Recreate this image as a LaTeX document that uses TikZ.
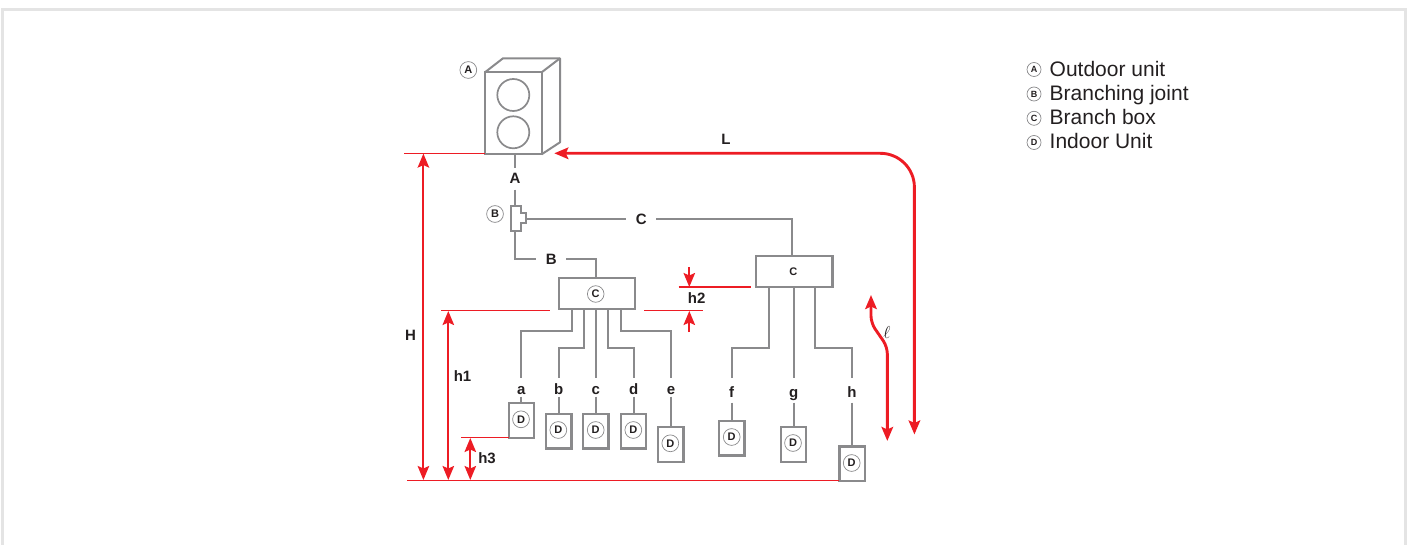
\documentclass[tikz,border=0pt]{standalone}
\usepackage{fontspec}
\setmainfont{Liberation Sans}
\usetikzlibrary{arrows.meta}
\definecolor{pipegray}{HTML}{8A8A8C}
\definecolor{redline}{HTML}{ED1C24}
\definecolor{ink}{HTML}{231F20}
\definecolor{framegray}{HTML}{E4E4E4}
\tikzset{
  pipe/.style={draw=pipegray,line width=2pt},
  boxline/.style={draw=pipegray,line width=2.3pt,fill=white,outer sep=0pt,inner sep=0pt},
  branchbox/.style={boxline,minimum width=76.6pt,minimum height=31pt},
  unitbox/.style={boxline,minimum width=25.3pt,minimum height=34.4pt},
  badge/.style={circle,draw=pipegray,line width=.7pt,fill=white,inner sep=0pt,minimum size=16.8pt,font=\fontsize{11}{11}\selectfont\bfseries,text=ink},
  legbadge/.style={badge,minimum size=14pt,font=\fontsize{9}{9}\selectfont\bfseries},
  boldtxt/.style={font=\fontsize{15}{15}\selectfont\bfseries,text=ink,inner sep=0pt},
  hlab/.style={boldtxt,text height=10.5pt,text depth=0pt,minimum width=29.4pt},
  vlab/.style={boldtxt,text height=14pt,text depth=0pt,inner ysep=2pt},
  vlabb/.style={boldtxt,text height=14pt,text depth=0pt,inner ysep=5pt},
  legtxt/.style={font=\fontsize{21}{21}\selectfont,text=ink,inner sep=0pt,anchor=base west},
  thinred/.style={draw=redline,line width=1.5pt},
  dim/.style={draw=redline,line width=2pt},
  bigred/.style={draw=redline,line width=2.9pt},
  tip/.style={-{Stealth[length=14pt,width=11.5pt,inset=2.5pt]}},
  tips/.style={{Stealth[length=14pt,width=11.5pt,inset=2.5pt]}-{Stealth[length=14pt,width=11.5pt,inset=2.5pt]}},
}
\begin{document}
\begin{tikzpicture}[x=1pt,y=-1pt]
\useasboundingbox (0,0) rectangle (1415,545);
\draw[framegray,line width=3pt] (2.5,545) -- (2.5,9.5) -- (1405.5,9.5) -- (1405.5,545);

% outdoor unit
\node[boxline,minimum width=56.7pt,minimum height=82pt] (front) at (513.3,113.3) {};
\draw[draw=pipegray,line width=2pt,line join=round] (front.north west) -- (503,58.3) -- (560,58.3) -- (560,142.3) -- (front.south east);
\draw[draw=pipegray,line width=2pt] (front.north east) -- (560,58.3);
\node[circle,draw=pipegray,line width=1.7pt,minimum size=32pt,inner sep=0pt] (fan1) at (513.3,95) {};
\node[circle,draw=pipegray,line width=1.7pt,minimum size=32pt,inner sep=0pt] (fan2) at (513.3,132.3) {};
\node[badge] (badgeA) at (468.3,70) {A};

% branching joint
\coordinate (jt) at (515,205.7);
\coordinate (jb) at (515,230.7);
\coordinate (jr) at (526,219.3);
\draw[draw=pipegray,line width=1.7pt] (511.3,205.7) -- (520.7,205.7) -- (520.7,212.7) -- (526,212.7) -- (526,223.3) -- (520.7,223.3) -- (520.7,230.7) -- (511.3,230.7) -- cycle;
\node[badge] (badgeB) at (495,214) {B};

% branch boxes
\node[branchbox] (boxC) at (597,293.5) {};
\node[badge,minimum size=16.6pt] (badgeC) at (595.7,294) {C};
\node[branchbox] (boxc) at (794.3,271.2) {};
\node[font=\fontsize{11}{11}\selectfont\bfseries,text=ink,inner sep=0pt] (lettc) at (793.4,271.7) {C};

% pipe labels
\node[boldtxt,text height=10.5pt,text depth=0pt,inner ysep=5.5pt] (lA) at (515,178.75) {A};
\node[hlab] (lC) at (641.3,219.3) {C};
\node[hlab] (lB) at (551.3,259.3) {B};

\node[vlab] (la) at (521.3,387.3) {a};
\node[vlab] (lb) at (558.7,387.3) {b};
\node[vlab] (lc) at (595.7,387.3) {c};
\node[vlab] (ld) at (633.7,387.3) {d};
\node[vlab] (le) at (671,387.3) {e};
\node[vlabb] (lf) at (731.7,390.3) {f};
\node[vlabb] (lg) at (793.7,390.3) {g};
\node[vlabb] (lh) at (852,390.3) {h};

% indoor units
\node[unitbox] (ua) at (521.3,420.5) {};
\node[unitbox] (ub) at (558.7,431.2) {};
\node[unitbox] (uc) at (595.7,431.2) {};
\node[unitbox] (ud) at (633.3,431.2) {};
\node[unitbox] (ue) at (670.7,444.5) {};
\node[unitbox] (uf) at (731.8,438.2) {};
\node[unitbox] (ug) at (793.4,444.5) {};
\node[unitbox] (uh) at (852,463.7) {};
\node[badge] (da) at (521,419.3) {D};
\node[badge] (db) at (558.3,430) {D};
\node[badge] (dc) at (595.7,430) {D};
\node[badge] (dd) at (633.3,430) {D};
\node[badge] (de) at (670.3,443.3) {D};
\node[badge] (df) at (731.7,437) {D};
\node[badge] (dg) at (793,443) {D};
\node[badge] (dh) at (851.7,463) {D};

% pipes
\draw[pipe] (front.south -| lA) -- (lA.north);
\draw[pipe] (lA.south) -- (jt);
\draw[pipe] (jr) -- (lC.west);
\draw[pipe] (lC.east) -| ([xshift=-2pt]boxc.north);
\draw[pipe] (jb) |- (lB.west);
\draw[pipe] (lB.east) -| (boxC.north -| badgeC);

\draw[pipe] (boxC.south -| 572,0) -- (572,330.7) -| (la.north);
\draw[pipe] (boxC.south -| 584,0) -- (584,347.7) -| (lb.north);
\draw[pipe] (boxC.south -| lc) -- (lc.north);
\draw[pipe] (boxC.south -| 608.3,0) -- (608.3,347.7) -| (ld.north);
\draw[pipe] (boxC.south -| 621,0) -- (621,331) -| (le.north);
\draw[pipe] (la.south) -- (ua.north);
\draw[pipe] (lb.south) -- (ub.north);
\draw[pipe] (lc.south) -- (uc.north);
\draw[pipe] (ld.south) -- (ld |- ud.north);
\draw[pipe] (le.south) -- (le |- ue.north);

\draw[pipe] (boxc.south -| 768.7,0) -- (768.7,347.7) -| (lf.north);
\draw[pipe] (boxc.south -| lg) -- (lg.north);
\draw[pipe] (boxc.south -| 815.3,0) -- (815.3,347.7) -| (lh.north);
\draw[pipe] (lf.south) -- (lf |- uf.north);
\draw[pipe] (lg.south) -- (lg |- ug.north);
\draw[pipe] (lh.south) -- (uh.north);

% red reference lines
\coordinate (topref) at (404,153.3);
\coordinate (botref) at (407.3,480.4);
\coordinate (h1ref) at (441,310.7);
\coordinate (h1end) at (550.3,310.7);
\coordinate (h2low) at (644,310.7);
\coordinate (h2lowend) at (702.7,310.7);
\coordinate (h2up) at (678.7,287.2);
\coordinate (h2upend) at (750.7,287.2);
\coordinate (h3ref) at (461.3,437.7);
\draw[thinred] (topref) -- (485,153.3);
\draw[thinred] (botref) -- (uh.south west |- botref);
\draw[thinred] (h1ref) -- (h1end);
\draw[thinred] (h2low) -- (h2lowend);
\draw[thinred] (h2up) -- (h2upend);
\draw[thinred] (h3ref) -- (ua.south west);

% dimension arrows
\draw[dim,tips] (423.4,153.6) -- (423.4,480);
\draw[dim,tips] (448.3,311) -- (448.3,480);
\draw[dim,tips] (470.3,438) -- (470.3,480);
\draw[dim,tip] (689.3,267) -- (689.3,287);
\draw[dim,tip] (689.3,332) -- (689.3,311);
\draw[bigred,tips,rounded corners=34pt] (914.4,434.5) -- (914.4,153.3) -- (554.3,153.3);
\draw[bigred,tips,rounded corners=7pt] (871,295) -- (871,323) -- (887.3,346.7) -- (887.3,441);

% dimension labels
\node[boldtxt] (labL) at (726,139) {L};
\node[boldtxt] (labH) at (410.5,335) {H};
\node[boldtxt] (labh1) at (462.5,375.7) {h1};
\node[boldtxt] (labh2) at (696.7,298.5) {h2};
\node[boldtxt] (labh3) at (487,458.5) {h3};
\node[text=ink,inner sep=0pt,font=\fontsize{19}{19}\selectfont] (labl) at (887,332) {$\ell$};

% legend
\node[legbadge] (k1) at (1034,69.5) {A};
\node[legbadge] (k2) at (1034,94) {B};
\node[legbadge] (k3) at (1034,118.3) {C};
\node[legbadge] (k4) at (1034,142.5) {D};
\node[legtxt] (t1) at (1049.5,77) {Outdoor unit};
\node[legtxt] (t2) at (1049.5,101) {Branching joint};
\node[legtxt] (t3) at (1049.5,125) {Branch box};
\node[legtxt] (t4) at (1049.5,149) {Indoor Unit};
\end{tikzpicture}
\end{document}
